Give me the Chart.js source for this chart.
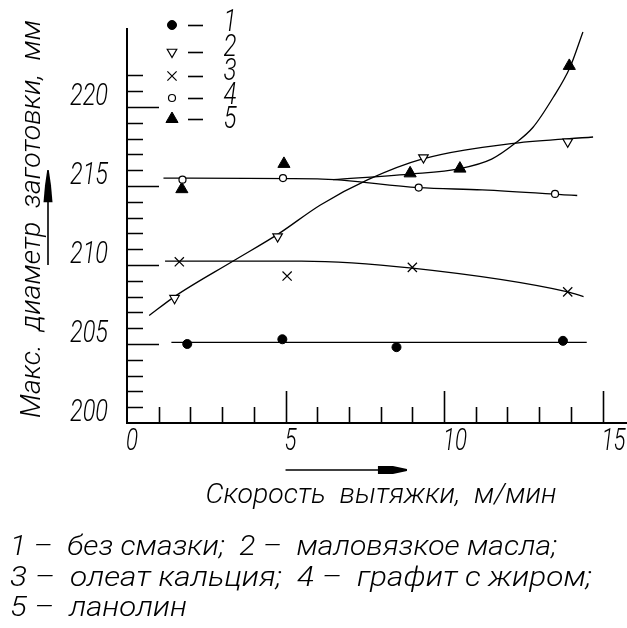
<!DOCTYPE html>
<html>
<head>
<meta charset="utf-8">
<script src="https://cdn.jsdelivr.net/npm/chart.js@4.4.1/dist/chart.umd.min.js"></script>
<style>
  html, body { margin: 0; padding: 0; background: #fff; overflow: hidden; }
  canvas { display: block; }
</style>
</head>
<body>
<canvas id="chart" width="627" height="628"></canvas>
<script>
// Measured points (speed, m/min -> max diameter, mm)
const speed1 = [1.9, 4.9, 8.5, 13.75];
const diam1 = [205.0, 205.3, 204.8, 205.2];
const speed2 = [1.5, 4.75, 9.35, 13.9];
const diam2 = [207.9, 211.8, 216.8, 217.8];
const speed3 = [1.65, 5.05, 9.0, 13.9];
const diam3 = [210.2, 209.3, 209.85, 208.3];
const speed4 = [1.75, 4.92, 9.2, 13.5];
const diam4 = [215.4, 215.5, 214.9, 214.5];
const speed5 = [1.73, 4.95, 8.93, 10.5, 13.95];
const diam5 = [214.8, 216.4, 215.8, 216.1, 222.6];

// Fitted curves, knots
const fit1X = [1.4, 14.5];
const fit1Y = [205.1, 205.1];
const fit2X = [0.7, 1.5, 3.35, 4.8, 6.1, 7.6, 9.3, 12.2, 14.7];
const fit2Y = [206.8, 208.0, 210.25, 212.0, 213.8, 215.4, 216.7, 217.7, 218.1];
const fit3X = [1.2, 5.5, 9.0, 13.9, 14.4];
const fit3Y = [210.25, 210.25, 209.8, 208.3, 208.0];
const fit4X = [1.15, 6.0, 9.2, 11.2, 14.2];
const fit4Y = [215.5, 215.45, 214.9, 214.75, 214.4];
const fit5X = [6.5, 8.9, 10.5, 11.5, 12.24, 12.8, 13.44, 13.97, 14.38];
const fit5Y = [215.4, 215.75, 216.1, 216.7, 217.7, 218.7, 220.6, 222.5, 224.75];

// Axes
const xTicks = [1, 2, 3, 4, 5, 6, 7, 8, 9, 10, 11, 12, 13, 14, 15];
const xLabels = [0, 5, 10, 15];
const yTicks = [201, 202, 203, 204, 205, 206, 207, 208, 209, 210, 211, 212, 213, 214, 215, 216, 217, 218, 219, 220, 221, 222];
const yLabels = [200, 205, 210, 215, 220];

const legendNames = ["1", "2", "3", "4", "5"];
const yTitle = "Макс.  диаметр  заготовки,  мм";
const xTitle = "Скорость  вытяжки,  м/мин";
const captionLines = [
  "1 –  без смазки;  2 –  маловязкое масла;",
  "3 –  олеат кальция;  4 –  графит с жиром;",
  "5 –  ланолин",
];

const FONT = "Roboto, 'Liberation Sans Narrow', sans-serif";
const toPoints = (xs, ys) => xs.map((x, i) => ({ x, y: ys[i] }));

// Marker styles
const markerStyles = [
  { pointStyle: "circle", radius: 4.5, rotation: 0, bg: "#000", borderWidth: 1 },
  { pointStyle: "triangle", radius: 5.5, rotation: 180, bg: "#fff", borderWidth: 1.2 },
  { pointStyle: "crossRot", radius: 6.5, rotation: 0, bg: "#000", borderWidth: 1.2 },
  { pointStyle: "circle", radius: 3.5, rotation: 0, bg: "#fff", borderWidth: 1.2 },
  { pointStyle: "triangle", radius: 7, rotation: 0, bg: "#000", borderWidth: 1 },
];

const markerSets = [
  toPoints(speed1, diam1),
  toPoints(speed2, diam2),
  toPoints(speed3, diam3),
  toPoints(speed4, diam4),
  toPoints(speed5, diam5),
];
const fitSets = [
  toPoints(fit1X, fit1Y),
  toPoints(fit2X, fit2Y),
  toPoints(fit3X, fit3Y),
  toPoints(fit4X, fit4Y),
  toPoints(fit5X, fit5Y),
];

const datasets = [];
markerSets.forEach((data, i) => {
  const s = markerStyles[i];
  datasets.push({
    label: legendNames[i],
    data,
    showLine: false,
    pointStyle: s.pointStyle,
    pointRadius: s.radius,
    pointRotation: s.rotation,
    pointBackgroundColor: s.bg,
    pointBorderColor: "#000",
    pointBorderWidth: s.borderWidth,
    clip: false,
  });
});
fitSets.forEach((data, i) => {
  datasets.push({
    label: "fit " + legendNames[i],
    data,
    showLine: true,
    pointRadius: 0,
    borderColor: "#000",
    borderWidth: 1.3,
    cubicInterpolationMode: "monotone",
    clip: false,
  });
});

// Text helper: narrow italic text, optionally fitted to a width
const drawText = (ctx, text, x, y, o) => {
  ctx.save();
  ctx.font = `italic 300 ${o.size}px ${FONT}`;
  let sx = o.sx || 0.8;
  if (o.width) sx = o.width / ctx.measureText(text).width;
  ctx.translate(x, y);
  if (o.rot) ctx.rotate(o.rot);
  ctx.scale(sx, 1);
  ctx.textAlign = o.align || "left";
  ctx.textBaseline = "middle";
  ctx.fillStyle = "#000";
  ctx.fillText(text, 0, 0);
  ctx.restore();
};

const frame = {
  id: "frame",
  beforeDatasetsDraw(chart) {
    const { ctx, chartArea: a, scales: { x, y } } = chart;
    ctx.save();
    ctx.strokeStyle = "#000";
    ctx.lineWidth = 2;
    ctx.beginPath();
    ctx.moveTo(a.left, a.top);
    ctx.lineTo(a.left, a.bottom);
    ctx.lineTo(chart.width, a.bottom);
    ctx.stroke();

    ctx.lineWidth = 1.6;
    ctx.beginPath();
    yTicks.forEach(v => {
      const py = Math.round(y.getPixelForValue(v)) + 0.5;
      ctx.moveTo(a.left, py);
      ctx.lineTo(a.left + (v % 5 === 0 ? 32 : 16), py);
    });
    xTicks.forEach(v => {
      const px = Math.round(x.getPixelForValue(v)) + 0.5;
      ctx.moveTo(px, a.bottom);
      ctx.lineTo(px, a.bottom - (v % 5 === 0 ? 32 : 16));
    });
    ctx.stroke();
    ctx.restore();

    yLabels.forEach(v => {
      drawText(ctx, String(v), 108, y.getPixelForValue(v) - 10, { size: 31, align: "right", sx: 0.76 });
    });
    xLabels.forEach(v => {
      drawText(ctx, String(v), x.getPixelForValue(v) - 1, a.bottom + 19, { size: 31, sx: 0.72 });
    });

    // axis titles
    drawText(ctx, yTitle, 33, 219, { size: 27, rot: -Math.PI / 2, align: "center", width: 398 });
    drawText(ctx, xTitle, 381, 496, { size: 28, align: "center", width: 351 });

    // direction arrows
    ctx.save();
    ctx.fillStyle = "#000";
    ctx.strokeStyle = "#000";
    ctx.lineWidth = 1.6;
    const ax0 = x.getPixelForValue(5), ax1 = x.getPixelForValue(8.83), ay = a.bottom + 47;
    ctx.beginPath();
    ctx.moveTo(ax0, ay);
    ctx.lineTo(ax1, ay);
    ctx.stroke();
    ctx.beginPath();
    ctx.moveTo(ax1 - 29, ay - 4);
    ctx.lineTo(ax1 - 14, ay - 4);
    ctx.lineTo(ax1, ay - 1);
    ctx.lineTo(ax1, ay + 1);
    ctx.lineTo(ax1 - 14, ay + 4);
    ctx.lineTo(ax1 - 29, ay + 4);
    ctx.closePath();
    ctx.fill();

    const bx = 48, by0 = y.getPixelForValue(210), by1 = y.getPixelForValue(216);
    ctx.beginPath();
    ctx.moveTo(bx, by0);
    ctx.lineTo(bx, by1);
    ctx.stroke();
    ctx.beginPath();
    ctx.moveTo(bx - 4.5, by1 + 32);
    ctx.lineTo(bx + 4.5, by1 + 32);
    ctx.lineTo(bx + 3, by1 + 15);
    ctx.lineTo(bx + 0.8, by1);
    ctx.lineTo(bx - 0.8, by1);
    ctx.lineTo(bx - 3, by1 + 15);
    ctx.closePath();
    ctx.fill();
    ctx.restore();

    // legend block
    const legendY = [25, 52, 76, 98, 119];
    const numY = [23, 48, 72, 96, 120];
    markerStyles.forEach((s, i) => {
      ctx.save();
      ctx.fillStyle = s.bg;
      ctx.strokeStyle = "#000";
      ctx.lineWidth = s.borderWidth;
      Chart.helpers.drawPoint(ctx, {
        pointStyle: s.pointStyle, radius: s.radius, rotation: s.rotation, borderWidth: s.borderWidth,
      }, 172, legendY[i]);
      ctx.lineWidth = 1.6;
      ctx.beginPath();
      ctx.moveTo(188, legendY[i] + 0.5);
      ctx.lineTo(203, legendY[i] + 0.5);
      ctx.stroke();
      ctx.restore();
      drawText(ctx, legendNames[i], 230, numY[i], { size: 31, align: "center", sx: 0.78 });
    });

    // caption
    const capW = [547, 582, 177];
    const capY = [548, 579, 609];
    captionLines.forEach((t, i) => {
      drawText(ctx, t, 10, capY[i], { size: 27, width: capW[i] });
    });
  },
};

new Chart(document.getElementById("chart"), {
  type: "scatter",
  data: { datasets },
  options: {
    responsive: false,
    animation: false,
    devicePixelRatio: 1,
    layout: { autoPadding: false, padding: { left: 127, top: 28, right: 0, bottom: 205 } },
    scales: {
      x: { type: "linear", min: 0, max: 15.77, display: false },
      y: { type: "linear", min: 200, max: 225, display: false },
    },
    plugins: {
      legend: { display: false },
      tooltip: { enabled: false },
    },
  },
  plugins: [frame],
});
</script>
</body>
</html>
